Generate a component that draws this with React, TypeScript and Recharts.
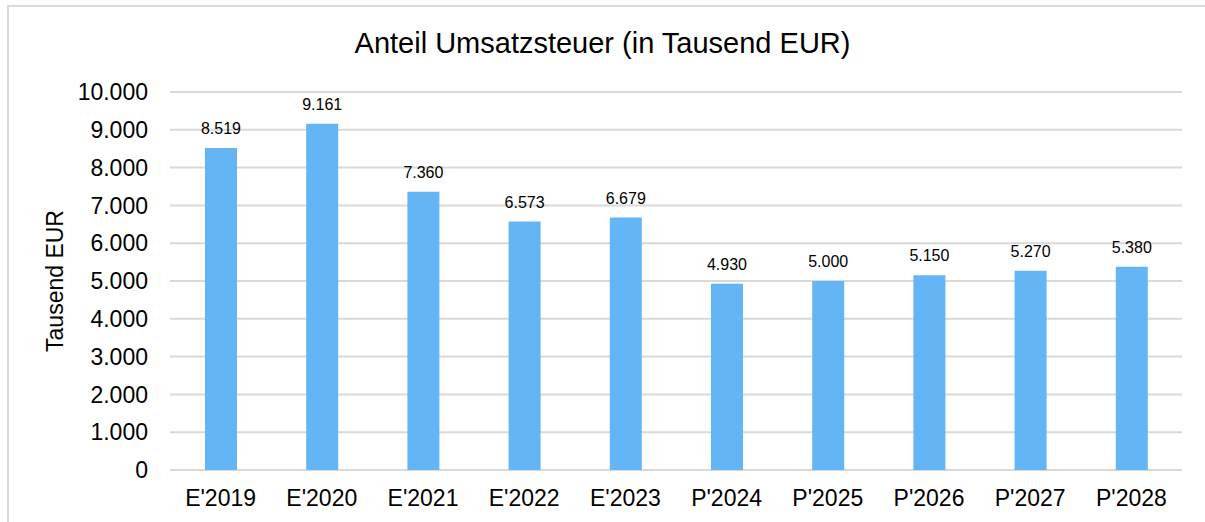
import React from 'react';
import { BarChart, Bar, XAxis, YAxis, CartesianGrid, LabelList } from 'recharts';

const categories = ["E'2019", "E'2020", "E'2021", "E'2022", "E'2023", "P'2024", "P'2025", "P'2026", "P'2027", "P'2028"];
const values = [8519, 9161, 7360, 6573, 6679, 4930, 5000, 5150, 5270, 5380];
const yTicks = [0, 1000, 2000, 3000, 4000, 5000, 6000, 7000, 8000, 9000, 10000];

const title = 'Anteil Umsatzsteuer (in Tausend EUR)';
const yLabel = 'Tausend EUR';

const data = categories.map((c, i) => ({ name: c, value: values[i] }));

const FONT = '"Liberation Sans", Arial, sans-serif';
const fmt = (v: number) => v.toLocaleString('de-DE');

export default function App() {
  return (
    <div style={{ position: 'absolute', left: 0, top: 0, width: 1205, height: 522, overflow: 'hidden', background: '#fff', fontFamily: FONT }}>
      <div style={{ position: 'absolute', left: 7, top: 5, width: 1198, height: 517, borderTop: '2px solid #d9d9d9', borderLeft: '2px solid #d9d9d9', boxSizing: 'border-box' }} />
      <div style={{ position: 'absolute', left: 0, top: 29, width: 1205, textAlign: 'center', fontSize: 29, lineHeight: '29px', color: '#000', fontFamily: FONT }}>
        {title}
      </div>
      <div style={{ position: 'absolute', left: 0, top: 0 }}>
        <BarChart width={1205} height={522} data={data} margin={{ top: 92, right: 23, bottom: 0, left: 0 }}>
          <CartesianGrid vertical={false} stroke="#d9d9d9" strokeWidth={2} />
          <XAxis
            dataKey="name"
            height={52}
            axisLine={false}
            tickLine={false}
            tickSize={6}
            tickMargin={14}
            interval={0}
            tick={{ fill: '#000', fontSize: 23, fontFamily: FONT }}
          />
          <YAxis
            width={170}
            domain={[0, 10000]}
            ticks={yTicks}
            interval={0}
            axisLine={false}
            tickLine={false}
            tickSize={6}
            tickMargin={16}
            tickFormatter={fmt}
            tick={{ fill: '#000', fontSize: 23, fontFamily: FONT }}
            label={{
              content: (props: any) => {
                const vb = props.viewBox || { x: 0, y: 92, width: 170, height: 378 };
                const cx = vb.x + 55;
                const cy = vb.y + vb.height / 2;
                return (
                  <text x={cx} y={cy} dy="0.355em" textAnchor="middle" transform={`rotate(-90, ${cx}, ${cy})`} fill="#000" fontSize={23} fontFamily={FONT}>
                    {yLabel}
                  </text>
                );
              },
            }}
          />
          <Bar dataKey="value" fill="#64B5F6" barSize={32} isAnimationActive={false}>
            <LabelList dataKey="value" position="top" offset={14} formatter={(v: any) => fmt(Number(v))} style={{ fill: '#000', fontSize: 16, fontFamily: FONT }} />
          </Bar>
        </BarChart>
      </div>
    </div>
  );
}
